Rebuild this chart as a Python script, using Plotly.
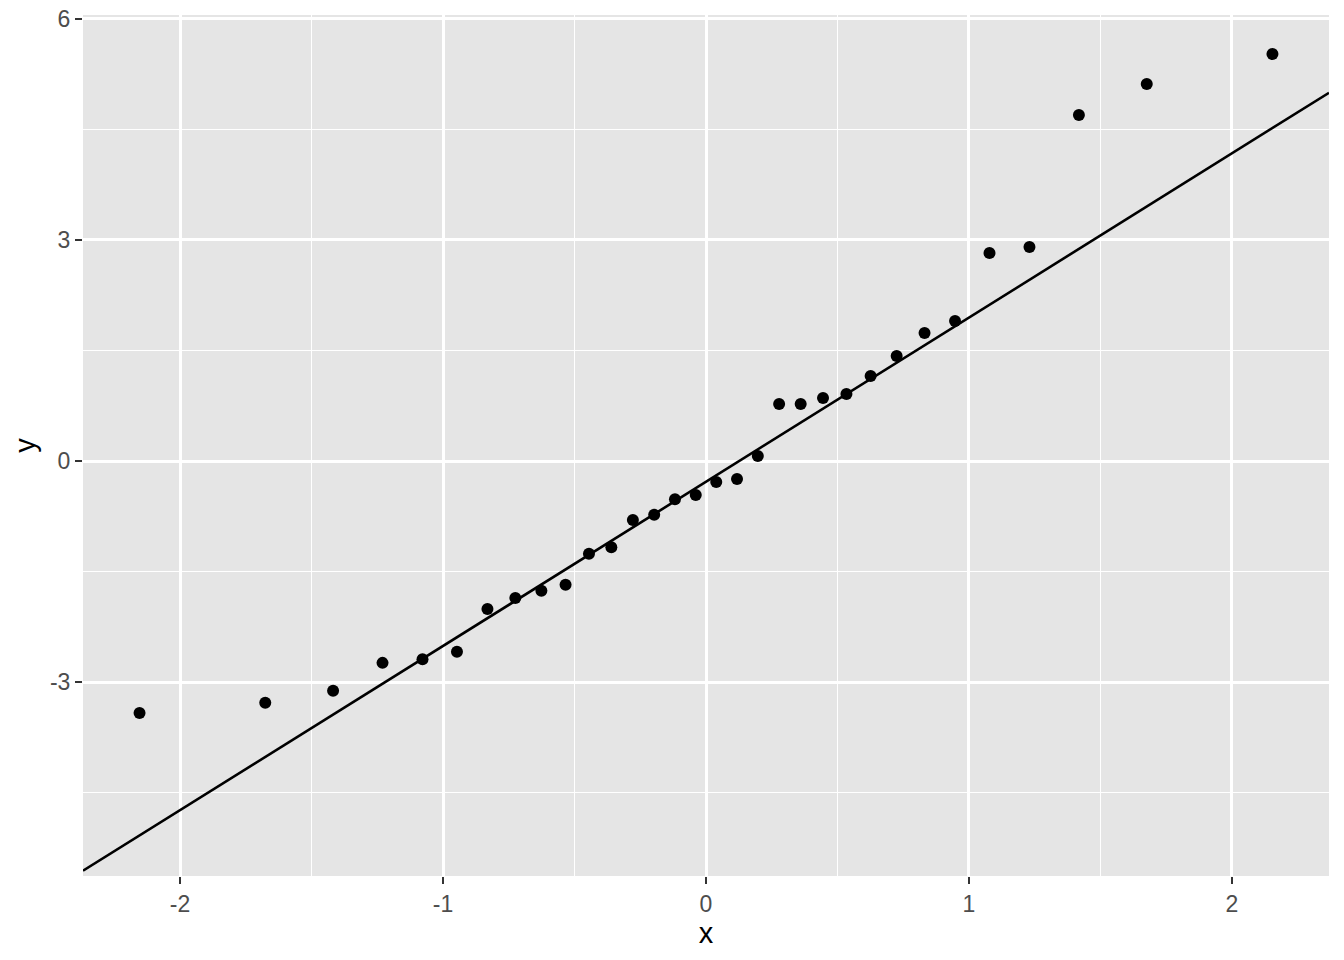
import numpy as np
import plotly.graph_objects as go

# Theoretical normal quantiles (n = 32) read from the x positions of the points
theoretical = [-2.154, -1.676, -1.418, -1.230, -1.078, -0.947, -0.831, -0.725,
               -0.626, -0.534, -0.445, -0.360, -0.278, -0.197, -0.118, -0.039,
               0.039, 0.118, 0.197, 0.278, 0.360, 0.445, 0.534, 0.626,
               0.725, 0.831, 0.947, 1.078, 1.230, 1.418, 1.676, 2.154]
# Sample values read from the y positions
sample = [-3.42, -3.28, -3.12, -2.74, -2.69, -2.59, -2.01, -1.86,
          -1.76, -1.68, -1.26, -1.17, -0.80, -0.73, -0.52, -0.46,
          -0.285, -0.244, 0.068, 0.774, 0.774, 0.855, 0.909, 1.154,
          1.425, 1.737, 1.900, 2.823, 2.905, 4.697, 5.117, 5.525]

x_ticks = [-2, -1, 0, 1, 2]
y_ticks = [-3, 0, 3, 6]
x_range = [-2.369, 2.369]
y_range = [-5.633, 6.054]

# qq-line through the quartiles (as R's qqline does)
q1, q3 = np.quantile(sample, [0.25, 0.75])
z1, z3 = -0.6744898, 0.6744898
slope = (q3 - q1) / (z3 - z1)
intercept = q1 - slope * z1
line_x = np.array(x_range)
line_y = intercept + slope * line_x

FONT = "Liberation Sans, Arial, Helvetica, sans-serif"

fig = go.Figure()
fig.add_trace(go.Scatter(x=line_x, y=line_y, mode="lines",
                         line=dict(color="black", width=2.6), hoverinfo="skip",
                         showlegend=False))
fig.add_trace(go.Scatter(x=theoretical, y=sample, mode="markers",
                         marker=dict(color="black", size=12, line=dict(width=0)),
                         showlegend=False))

axis_common = dict(
    showgrid=True, gridcolor="white", gridwidth=2.6,
    zeroline=False, showline=False, automargin=False,
    ticks="outside", ticklen=7, tickwidth=2.4, tickcolor="#333333",
    tickfont=dict(family=FONT, size=23, color="#4D4D4D"),
    minor=dict(showgrid=True, gridcolor="white", gridwidth=1.3, ticks=""),
)

fig.update_xaxes(range=x_range, tickvals=x_ticks, ticktext=[str(v) for v in x_ticks],
                 minor_tickvals=[-1.5, -0.5, 0.5, 1.5],
                 title=dict(text="x", font=dict(family=FONT, size=29, color="black"), standoff=6),
                 **axis_common)
fig.update_yaxes(range=y_range, tickvals=y_ticks, ticktext=[str(v) for v in y_ticks],
                 minor_tickvals=[-4.5, -1.5, 1.5, 4.5],
                 title=dict(text="y", font=dict(family=FONT, size=29, color="black"), standoff=5),
                 **axis_common)

fig.update_layout(
    width=1344, height=960,
    margin=dict(l=83, r=15, t=15, b=84, pad=0, autoexpand=False),
    plot_bgcolor="#E5E5E5", paper_bgcolor="white",
    showlegend=False,
)

fig.write_html("out.html", config={"displayModeBar": False},
               post_script="document.body.style.margin='0';document.body.style.padding='0';document.body.style.overflow='hidden';")
